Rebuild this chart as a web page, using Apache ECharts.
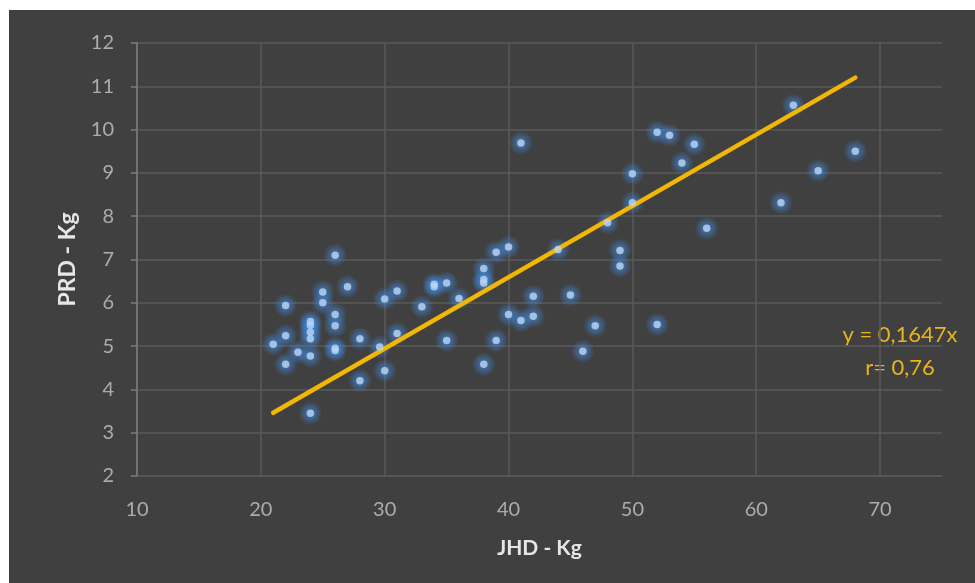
<!DOCTYPE html>
<html>
<head>
<meta charset="utf-8">
<script src="https://cdn.jsdelivr.net/npm/echarts@6/dist/echarts.min.js"></script>
<style>
html,body{margin:0;padding:0;background:#fff;width:975px;height:583px;overflow:hidden;}
#chart{position:absolute;left:9px;top:10px;width:966px;height:573px;background:#404040;}
</style>
</head>
<body>
<div id="chart"></div>
<script>
const jhd = [21,22,22,22,23,24,24,24,24,24,24,25,25,26,26,26,26,26,27,28,28,29.6,30,30,31,31,33,34,34,35,35,36,38,38,38,38,39,39,40,40,41,41,42,42,44,45,46,47,48,49,49,50,50,52,52,53,54,55,56,62,63,65,68];
const prd = [5.04,5.94,5.24,4.58,4.86,5.57,5.48,5.32,5.17,4.77,3.45,6.25,6.0,7.1,5.73,5.47,4.95,4.9,6.37,5.17,4.2,4.98,6.09,4.43,6.27,5.29,5.91,6.43,6.37,6.46,5.13,6.1,6.79,6.54,6.46,4.58,7.17,5.13,7.29,5.73,9.69,5.59,6.15,5.69,7.23,6.18,4.88,5.47,7.85,7.21,6.85,8.98,8.31,9.94,5.5,9.87,9.23,9.66,7.72,8.31,10.56,9.05,9.5];
const trendX = [21, 68];
const trendY = [3.46, 11.20];
const eqLines = ['y = 0,1647x', 'r= 0,76'];
const xTitle = 'JHD - Kg';
const yTitle = 'PRD - Kg';

const font = 'Lato, "Open Sans", sans-serif';
const chart = echarts.init(document.getElementById('chart'));
const pts = jhd.map((x, i) => [x, prd[i]]);
const trend = trendX.map((x, i) => [x, trendY[i]]);
const vColors = ['#5a5a5a','#5a5a5a','#5a5a5a','#5a5a5a','#5a5a5a','#5a5a5a','#5a5a5a','rgba(0,0,0,0)'];

chart.setOption({
  backgroundColor: '#404040',
  animation: false,
  grid: {left: 128, top: 33, right: 33, bottom: 107, containLabel: false},
  xAxis: {
    type: 'value', min: 10, max: 75, interval: 10,
    name: xTitle, nameLocation: 'middle', nameGap: 62,
    nameTextStyle: {color: '#e6e6e6', fontSize: 21, fontWeight: 'bold', fontFamily: font},
    axisLine: {show: true, lineStyle: {color: '#5a5a5a', width: 1.5}},
    axisTick: {show: false},
    axisLabel: {color: '#acacac', fontSize: 20, fontFamily: font, margin: 24, showMaxLabel: false},
    splitLine: {show: true, lineStyle: {color: vColors, width: 1.5}}
  },
  yAxis: {
    type: 'value', min: 2, max: 12, interval: 1,
    name: yTitle, nameLocation: 'middle', nameGap: 58, nameRotate: 90,
    nameTextStyle: {color: '#e6e6e6', fontSize: 23, fontWeight: 'bold', fontFamily: font},
    axisLine: {show: true, lineStyle: {color: '#7d7d7d', width: 1.5}},
    axisTick: {show: true, inside: false, length: 6, lineStyle: {color: '#7d7d7d', width: 1.5}},
    axisLabel: {color: '#acacac', fontSize: 20, fontFamily: font, margin: 23},
    splitLine: {show: true, lineStyle: {color: '#5a5a5a', width: 1.5}}
  },
  series: [
    {
      type: 'scatter', data: pts, symbolSize: 24, z: 2, silent: true,
      itemStyle: {color: {type: 'radial', x: 0.5, y: 0.5, r: 0.5, colorStops: [
        {offset: 0, color: 'rgba(65,140,230,0.95)'},
        {offset: 0.5, color: 'rgba(65,140,230,0.5)'},
        {offset: 1, color: 'rgba(65,140,230,0)'}]}}
    },
    {
      type: 'line', data: trend, symbol: 'none', z: 3,
      lineStyle: {color: '#f2b705', width: 4.5, cap: 'round'}
    },
    {
      type: 'scatter', data: pts, symbolSize: 7.5, z: 4,
      itemStyle: {color: '#bcd6f2'}
    }
  ],
  graphic: [
    {type: 'text', x: 900 - 9, y: 335 - 10, style: {text: eqLines[0], fill: '#e8b51c', font: '22px ' + font, align: 'center', verticalAlign: 'middle'}},
    {type: 'text', x: 900 - 9, y: 368 - 10, style: {text: eqLines[1], fill: '#e8b51c', font: '22px ' + font, align: 'center', verticalAlign: 'middle'}}
  ]
});
</script>
</body>
</html>
